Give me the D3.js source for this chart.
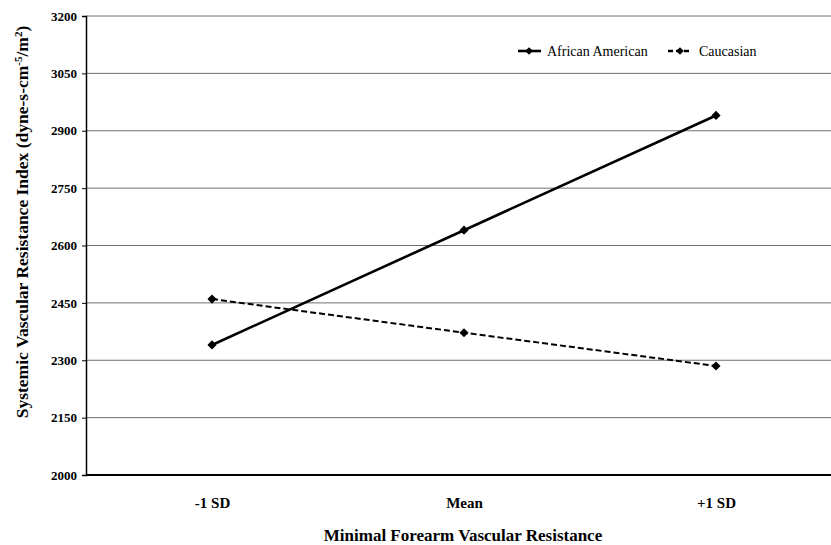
<!DOCTYPE html>
<html><head><meta charset="utf-8">
<script src="https://cdn.jsdelivr.net/npm/d3@7"></script>
<style>body{margin:0;background:#fff;} svg{display:block;} text{font-family:"Liberation Serif","Times New Roman",serif;}</style>
</head><body>
<script>
const categories = ["-1 SD", "Mean", "+1 SD"];
const africanAmerican = [2340, 2640, 2940];
const caucasian = [2460, 2372, 2285];
const yTicks = [2000, 2150, 2300, 2450, 2600, 2750, 2900, 3050, 3200];
const seriesNames = ["African American", "Caucasian"];

const W = 831, H = 545;
const svg = d3.select("body").append("svg").attr("width", W).attr("height", H);
const mLeft = 86, mRight = 842, mTop = 16, mBottom = 475;
const SERIF = '"Liberation Serif","Times New Roman",serif';

const x = d3.scalePoint().domain(categories).range([mLeft, mRight]).padding(0.5);
const y = d3.scaleLinear().domain([2000, 3200]).range([mBottom, mTop]);

// gridlines
svg.append("g").selectAll("line").data(yTicks.slice(1)).join("line")
  .attr("x1", mLeft).attr("x2", W).attr("y1", d => y(d)).attr("y2", d => y(d))
  .attr("stroke", "#707070").attr("stroke-width", 1);

// y axis
const ya = svg.append("g").attr("transform", `translate(${mLeft},0)`)
  .call(d3.axisLeft(y).tickValues(yTicks).tickSize(4).tickPadding(5).tickFormat(d3.format("d")));
ya.select(".domain").attr("stroke", "#000").attr("stroke-width", 1.5);
ya.selectAll(".tick line").attr("stroke", "#000");
ya.selectAll("text").attr("font-family", SERIF).attr("font-weight", "bold").attr("font-size", 13).attr("fill", "#000");

// x axis
const xa = svg.append("g").attr("transform", `translate(0,${mBottom})`)
  .call(d3.axisBottom(x).tickSize(0).tickPadding(0));
xa.select(".domain").attr("stroke", "#000").attr("stroke-width", 2).attr("d", `M${mLeft},0H${W}`);
xa.selectAll("text").attr("font-family", SERIF).attr("font-weight", "bold").attr("font-size", 15).attr("fill", "#000")
  .attr("dy", null).attr("y", 33);

const line = d3.line().x((d, i) => x(categories[i])).y(d => y(d));
const diamond = d3.symbol().type(d3.symbolSquare).size(42);

function drawSeries(vals, dash) {
  svg.append("path").datum(vals).attr("d", line).attr("fill", "none")
    .attr("stroke", "#000").attr("stroke-width", dash ? 2 : 2.6)
    .attr("stroke-dasharray", dash ? "6,3" : null);
  svg.append("g").selectAll("path").data(vals).join("path")
    .attr("d", diamond).attr("fill", "#000")
    .attr("transform", (d, i) => `translate(${x(categories[i])},${y(d)}) rotate(45)`);
}
drawSeries(africanAmerican, false);
drawSeries(caucasian, true);

// legend
const lg = svg.append("g");
const ly = 51;
lg.append("line").attr("x1", 518).attr("x2", 541).attr("y1", ly).attr("y2", ly).attr("stroke", "#000").attr("stroke-width", 2.6);
lg.append("path").attr("d", d3.symbol().type(d3.symbolSquare).size(30)).attr("transform", `translate(529,${ly}) rotate(45)`);
lg.append("text").attr("x", 547).attr("y", ly + 5).attr("font-family", SERIF).attr("font-size", 14).text(seriesNames[0]);
lg.append("line").attr("x1", 668).attr("x2", 690).attr("y1", ly).attr("y2", ly).attr("stroke", "#000").attr("stroke-width", 2.4).attr("stroke-dasharray", "5,3");
lg.append("path").attr("d", d3.symbol().type(d3.symbolSquare).size(30)).attr("transform", `translate(680,${ly}) rotate(45)`);
lg.append("text").attr("x", 699).attr("y", ly + 5).attr("font-family", SERIF).attr("font-size", 14).text(seriesNames[1]);

// titles
svg.append("text").attr("x", 463).attr("y", 541).attr("text-anchor", "middle").attr("font-family", SERIF)
  .attr("font-weight", "bold").attr("font-size", 17).text("Minimal Forearm Vascular Resistance");
svg.append("text").attr("transform", "translate(28,222) rotate(-90)").attr("text-anchor", "middle").attr("font-family", SERIF)
  .attr("font-weight", "bold").attr("font-size", 17.5)
  .html('Systemic Vascular Resistance Index (dyne-s-cm<tspan dy="-6" font-size="11">-5</tspan><tspan dy="6">/m</tspan><tspan dy="-6" font-size="11">2</tspan><tspan dy="6">)</tspan>');
</script>
</body></html>
